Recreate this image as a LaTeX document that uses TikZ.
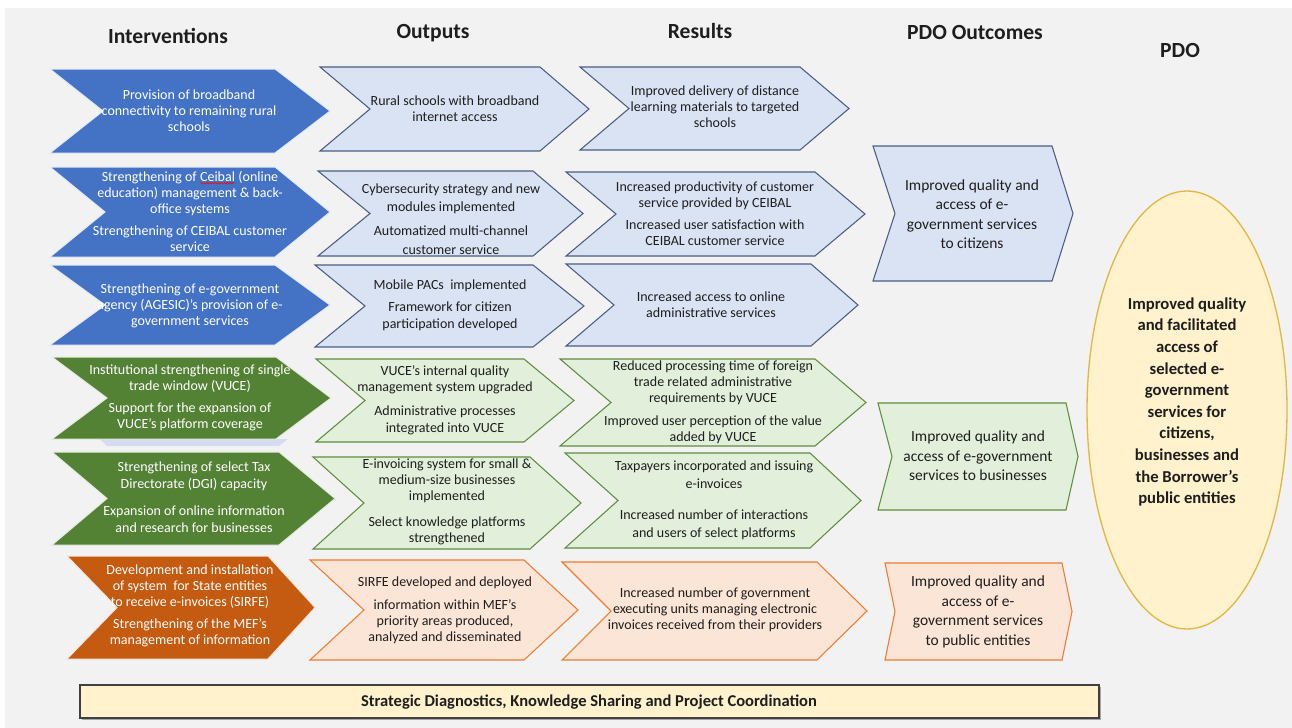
\documentclass[tikz,border=0pt]{standalone}
\usepackage{fontspec}
\setmainfont{Carlito}
\usetikzlibrary{decorations.pathmorphing}

\definecolor{bgray}{HTML}{F2F2F2}
\definecolor{txt}{HTML}{1E1E1E}
\definecolor{dblue}{HTML}{4472C4}
\definecolor{lblue}{HTML}{DAE3F3}
\definecolor{sblue}{HTML}{4A5E84}
\definecolor{dgreen}{HTML}{548235}
\definecolor{lgreen}{HTML}{E2EFDA}
\definecolor{sgreen}{HTML}{5E8F3E}
\definecolor{dorange}{HTML}{C55A11}
\definecolor{lorange}{HTML}{FBE5D6}
\definecolor{sorange}{HTML}{ED7D31}
\definecolor{lyellow}{HTML}{FFF2CC}
\definecolor{syellow}{HTML}{E0B842}
\definecolor{lavender}{HTML}{D5DCF0}

% word with a red wavy underline
\newcommand{\redwave}[1]{\tikz[baseline=(sw.base),x=1pt,y=1pt]{%
  \node[text=white,inner sep=0pt,outer sep=0pt] (sw) {#1};
  \draw[red,line width=0.4pt,decorate,decoration={snake,amplitude=0.6pt,segment length=2.2pt}]
    ([yshift=-1.6pt]sw.base west) -- ([yshift=-1.6pt]sw.base east);}}

% chevron: #1 style, #2 left x, #3 notch x, #4 end of flat edge, #5 tip x, #6 top y, #7 bottom y
\newcommand{\drawchev}[7]{%
  \pgfmathsetmacro\chevmid{(#6+#7)/2}%
  \path[#1] (#2,#6) -- (#4,#6) -- (#5,\chevmid) -- (#4,#7) -- (#2,#7) -- (#3,\chevmid) -- cycle;}

\begin{document}
\begin{tikzpicture}[x=0.75pt,y=-0.75pt,
  blueint/.style={fill=dblue,draw=white!85!dblue,line width=0.75pt},
  greenint/.style={fill=dgreen,draw=white!85!dgreen,line width=0.75pt},
  orangeint/.style={fill=dorange,draw=white!85!dorange,line width=0.75pt},
  bluebox/.style={fill=lblue,draw=sblue,line width=0.8pt},
  greenbox/.style={fill=lgreen,draw=sgreen,line width=0.8pt},
  orangebox/.style={fill=lorange,draw=sorange,line width=0.8pt},
  hdr/.style={text=txt,font=\fontsize{16.2}{18}\selectfont\bfseries,inner sep=0pt},
  itext/.style={text=white,align=center,inner sep=0pt,font=\fontsize{10.5}{12}\selectfont},
  otext/.style={text=txt,align=center,inner sep=0pt,font=\fontsize{10.5}{12}\selectfont},
  ptext/.style={text=txt,align=center,inner sep=0pt,font=\fontsize{11.6}{14.6}\selectfont},
]
\useasboundingbox (0,0) rectangle (1292,728);
% page background
\fill[white] (0,0) rectangle (1292,728);
\fill[bgray] (5,8) rectangle (1292,728);

% column headings
\node[hdr] (hint) at (168,36) {Interventions};
\node[hdr] (hout) at (433,33) {Outputs};
\node[hdr] (hres) at (700,31) {Results};
\node[hdr] (hpdoo) at (975,32) {PDO Outcomes};
\node[hdr] (hpdo) at (1180,50) {PDO};

% interventions
\fill[lavender] (100,439) -- (288,439) -- (279,446) -- (107,446) -- cycle;
\drawchev{blueint}{50}{103}{275}{330}{69}{153}
\drawchev{blueint}{50}{105}{275}{330}{167}{257}
\drawchev{blueint}{50}{105}{275}{330}{265}{345}
\drawchev{greenint}{52}{107}{276}{331}{357}{439}
\drawchev{greenint}{52}{107}{279}{335}{452}{545}
\drawchev{orangeint}{67}{117}{268}{315}{556}{659}

% outputs
\drawchev{bluebox}{320}{370}{540}{589}{67}{151}
\drawchev{bluebox}{318}{370}{533}{583}{171}{256}
\drawchev{bluebox}{315}{365}{533}{584}{265}{347}
\drawchev{greenbox}{316}{365}{524}{574}{359}{442}
\drawchev{greenbox}{313}{364}{530}{581}{457}{549}
\drawchev{orangebox}{310}{364}{524}{578}{560}{660}

% results
\drawchev{bluebox}{580}{629}{800}{849}{67}{150}
\drawchev{bluebox}{566}{616}{815}{865}{172}{256}
\drawchev{bluebox}{566}{614}{811}{858}{264}{346}
\drawchev{greenbox}{560}{611}{815}{866}{359}{446}
\drawchev{greenbox}{565}{618}{810}{861}{453}{548}
\drawchev{orangebox}{562}{611}{817}{867}{562}{660}

% PDO outcomes
\drawchev{bluebox}{873}{895}{1052}{1073}{146}{281}
\drawchev{greenbox}{878}{892}{1066}{1078}{403}{510}
\drawchev{orangebox}{885}{895}{1062}{1072}{563}{660}

% PDO
\draw[fill=lyellow,draw=syellow,line width=1pt] (1187,410) ellipse [x radius=75pt, y radius=164.25pt];

% cross-cutting component
\fill[gray!70] (82,687) rectangle (1101,720);
\draw[fill=lyellow,draw=black!75,line width=1pt] (80,685) rectangle (1099,718);

% intervention texts
\node[itext] (t11) at (189,111) {Provision of broadband\\connectivity to remaining rural\\schools};
\node[itext] (t21) at (190,211) {Strengthening of \redwave{Ceibal} (online\\education) management \& back-\\office systems\\[4.5pt]Strengthening of CEIBAL customer\\service};
\node[itext] (t31) at (190,306) {Strengthening of e-government\\agency (AGESIC)’s provision of e-\\government services};
\node[itext] (t41) at (190,398) {Institutional strengthening of single\\trade window (VUCE)\\[5pt]Support for the expansion of\\VUCE’s platform coverage};
\node[itext,font=\fontsize{10.5}{13}\selectfont] (t51) at (194,497) {Strengthening of select Tax\\Directorate (DGI) capacity\\[7pt]Expansion of online information\\and research for businesses};
\node[itext] (t61) at (190,606) {Development and installation\\of system\ \ for State entities\\to receive e-invoices (SIRFE)\\[5pt]Strengthening of the MEF’s\\management of information};

% output texts
\node[otext] (t12) at (455,109) {Rural schools with broadband\\internet access};
\node[otext,font=\fontsize{10.5}{13.9}\selectfont] (t22) at (451,219) {Cybersecurity strategy and new\\modules implemented\\[4pt]Automatized multi-channel\\customer service};
\node[otext,font=\fontsize{10.5}{12.8}\selectfont] (t32) at (450,305) {Mobile PACs\ \ implemented\\[4pt]Framework for citizen\\participation developed};
\node[otext,font=\fontsize{10.5}{12.4}\selectfont] (t42) at (445,400) {VUCE’s internal quality\\management system upgraded\\[5.5pt]Administrative processes\\integrated into VUCE};
\node[otext] (t52) at (447,502) {E-invoicing system for small \&\\medium-size businesses\\implemented\\[7.5pt]Select knowledge platforms\\strengthened};
\node[otext] (t62) at (445,610) {SIRFE developed and deployed\\[5pt]information within MEF’s\\priority areas produced,\\analyzed and disseminated};

% result texts
\node[otext] (t13) at (715,107) {Improved delivery of distance\\learning materials to targeted\\schools};
\node[otext] (t23) at (715,214) {Increased productivity of customer\\service provided by CEIBAL\\[4.5pt]Increased user satisfaction with\\CEIBAL customer service};
\node[otext] (t33) at (711,305) {Increased access to online\\administrative services};
\node[otext] (t43) at (713,402) {Reduced processing time of foreign\\trade related administrative\\requirements by VUCE\\[5pt]Improved user perception of the value\\added by VUCE};
\node[otext,font=\fontsize{10.5}{13.5}\selectfont] (t53) at (714,500) {Taxpayers incorporated and issuing\\e-invoices\\[10pt]Increased number of interactions\\and users of select platforms};
\node[otext] (t63) at (715,610) {Increased number of government\\executing units managing electronic\\invoices received from their providers};

% PDO outcome texts
\node[ptext] (t14) at (972,214) {Improved quality and\\access of e-\\government services\\to citizens};
\node[ptext] (t24) at (978,456) {Improved quality and\\access of e-government\\services to businesses};
\node[ptext] (t34) at (978,612) {Improved quality and\\access of e-\\government services\\to public entities};

% PDO text
\node[text=txt,align=center,inner sep=0pt,font=\fontsize{12.5}{16.2}\selectfont\bfseries] (t15) at (1187,402) {Improved quality\\and facilitated\\access of\\selected e-\\government\\services for\\citizens,\\businesses and\\the Borrower's\\public entities};

% bottom bar text
\node[text=txt,inner sep=0pt,font=\fontsize{12.4}{14}\selectfont\bfseries] (tbar) at (589,702) {Strategic Diagnostics, Knowledge Sharing and Project Coordination};
\end{tikzpicture}
\end{document}
